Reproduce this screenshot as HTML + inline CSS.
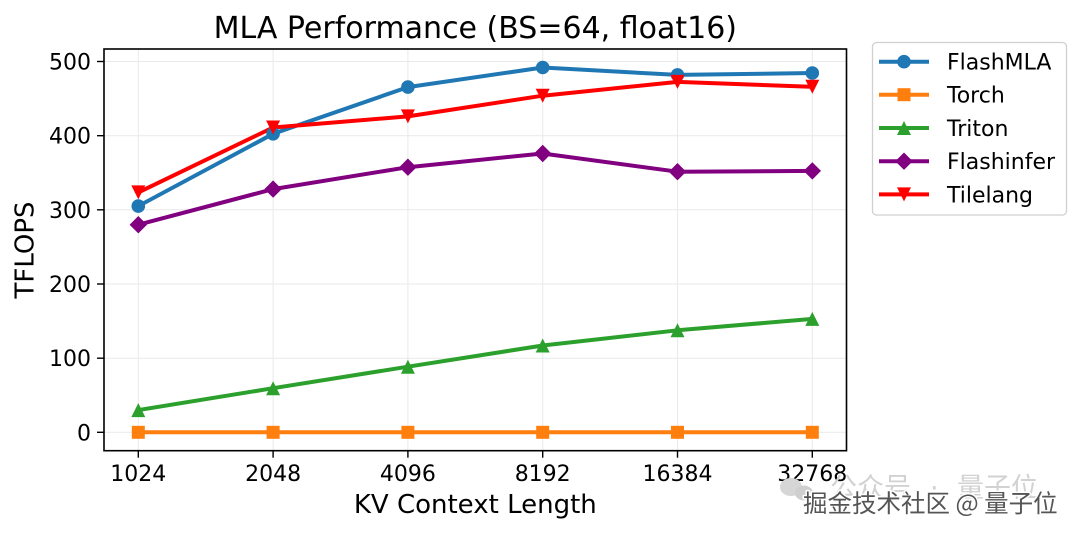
<!DOCTYPE html>
<html><head><meta charset="utf-8"><style>
html,body{margin:0;padding:0;background:#fff;}
svg{display:block;}
text{font-family:"DejaVu Sans","Liberation Sans",sans-serif;}
.cjk{font-family:"Noto Sans CJK SC","WenQuanYi Zen Hei",sans-serif;}
</style></head><body>
<svg width="1080" height="533" viewBox="0 0 1080 533" xmlns="http://www.w3.org/2000/svg">
<rect width="1080" height="533" fill="#fff"/>
<!-- grid -->
<g stroke="#e9e9e9" stroke-width="1">
<line x1="104" x2="846.5" y1="432.3" y2="432.3"/>
<line x1="104" x2="846.5" y1="358.2" y2="358.2"/>
<line x1="104" x2="846.5" y1="284.0" y2="284.0"/>
<line x1="104" x2="846.5" y1="209.8" y2="209.8"/>
<line x1="104" x2="846.5" y1="135.7" y2="135.7"/>
<line x1="104" x2="846.5" y1="61.5" y2="61.5"/>
<line y1="49" y2="450.7" x1="138.3" x2="138.3"/>
<line y1="49" y2="450.7" x1="273.1" x2="273.1"/>
<line y1="49" y2="450.7" x1="407.9" x2="407.9"/>
<line y1="49" y2="450.7" x1="542.7" x2="542.7"/>
<line y1="49" y2="450.7" x1="677.5" x2="677.5"/>
<line y1="49" y2="450.7" x1="812.3" x2="812.3"/>
</g>
<!-- series -->
<g fill="none" stroke-width="4" stroke-linejoin="round" stroke-linecap="square">
<polyline stroke="#ff7f0e" points="138.3,432.3 273.1,432.3 407.9,432.3 542.7,432.3 677.5,432.3 812.3,432.3"/>
<polyline stroke="#2ca02c" points="138.3,410.1 273.1,388.2 407.9,366.7 542.7,345.5 677.5,330.3 812.3,318.9"/>
<polyline stroke="#800080" points="138.3,224.7 273.1,189.1 407.9,167.2 542.7,153.5 677.5,171.7 812.3,170.9"/>
<polyline stroke="#1f77b4" points="138.3,206.1 273.1,133.8 407.9,87.1 542.7,67.5 677.5,74.9 812.3,73.0"/>
<polyline stroke="#ff0000" points="138.3,192.4 273.1,127.5 407.9,116.4 542.7,95.7 677.5,81.9 812.3,86.8"/>
</g>
<!-- markers -->
<g fill="#ff7f0e">
<rect x="131.8" y="425.8" width="13" height="13"/>
<rect x="266.6" y="425.8" width="13" height="13"/>
<rect x="401.4" y="425.8" width="13" height="13"/>
<rect x="536.2" y="425.8" width="13" height="13"/>
<rect x="671" y="425.8" width="13" height="13"/>
<rect x="805.8" y="425.8" width="13" height="13"/>
</g>
<g fill="#2ca02c">
<polygon points="138.3,403.1 131.3,417.1 145.3,417.1"/>
<polygon points="273.1,381.2 266.1,395.2 280.1,395.2"/>
<polygon points="407.9,359.7 400.9,373.7 414.9,373.7"/>
<polygon points="542.7,338.5 535.7,352.5 549.7,352.5"/>
<polygon points="677.5,323.3 670.5,337.3 684.5,337.3"/>
<polygon points="812.3,311.9 805.3,325.9 819.3,325.9"/>
</g>
<g fill="#800080">
<polygon points="138.3,216 147,224.7 138.3,233.4 129.6,224.7"/>
<polygon points="273.1,180.4 281.8,189.1 273.1,197.8 264.4,189.1"/>
<polygon points="407.9,158.5 416.6,167.2 407.9,175.9 399.2,167.2"/>
<polygon points="542.7,144.8 551.4,153.5 542.7,162.2 534,153.5"/>
<polygon points="677.5,163 686.2,171.7 677.5,180.4 668.8,171.7"/>
<polygon points="812.3,162.2 821,170.9 812.3,179.6 803.6,170.9"/>
</g>
<g fill="#1f77b4">
<circle cx="138.3" cy="206.1" r="6.8"/>
<circle cx="273.1" cy="133.8" r="6.8"/>
<circle cx="407.9" cy="87.1" r="6.8"/>
<circle cx="542.7" cy="67.5" r="6.8"/>
<circle cx="677.5" cy="74.9" r="6.8"/>
<circle cx="812.3" cy="73.0" r="6.8"/>
</g>
<g fill="#ff0000">
<polygon points="138.3,199.4 131.3,185.4 145.3,185.4"/>
<polygon points="273.1,134.5 266.1,120.5 280.1,120.5"/>
<polygon points="407.9,123.4 400.9,109.4 414.9,109.4"/>
<polygon points="542.7,102.7 535.7,88.7 549.7,88.7"/>
<polygon points="677.5,88.9 670.5,74.9 684.5,74.9"/>
<polygon points="812.3,93.8 805.3,79.8 819.3,79.8"/>
</g>
<!-- axes frame -->
<rect x="104" y="49" width="742.5" height="401.7" fill="none" stroke="#000" stroke-width="1.6"/>
<!-- ticks -->
<g stroke="#000" stroke-width="1.4">
<line x1="97" x2="104" y1="432.3" y2="432.3"/>
<line x1="97" x2="104" y1="358.2" y2="358.2"/>
<line x1="97" x2="104" y1="284.0" y2="284.0"/>
<line x1="97" x2="104" y1="209.8" y2="209.8"/>
<line x1="97" x2="104" y1="135.7" y2="135.7"/>
<line x1="97" x2="104" y1="61.5" y2="61.5"/>
<line y1="450.7" y2="457.7" x1="138.3" x2="138.3"/>
<line y1="450.7" y2="457.7" x1="273.1" x2="273.1"/>
<line y1="450.7" y2="457.7" x1="407.9" x2="407.9"/>
<line y1="450.7" y2="457.7" x1="542.7" x2="542.7"/>
<line y1="450.7" y2="457.7" x1="677.5" x2="677.5"/>
<line y1="450.7" y2="457.7" x1="812.3" x2="812.3"/>
</g>
<g font-size="22" fill="#000" text-anchor="end">
<text x="91" y="440.3">0</text>
<text x="91" y="366.2">100</text>
<text x="91" y="292">200</text>
<text x="91" y="217.8">300</text>
<text x="91" y="143.7">400</text>
<text x="91" y="69.5">500</text>
</g>
<g font-size="22" fill="#000" text-anchor="middle">
<text x="138.3" y="481">1024</text>
<text x="273.1" y="481">2048</text>
<text x="407.9" y="481">4096</text>
<text x="542.7" y="481">8192</text>
<text x="677.5" y="481">16384</text>
<text x="812.3" y="481">32768</text>
</g>
<text x="475.3" y="513" font-size="26" text-anchor="middle">KV Context Length</text>
<text transform="translate(33.5,250) rotate(-90)" font-size="26" text-anchor="middle">TFLOPS</text>
<text x="475.3" y="38" font-size="30" text-anchor="middle">MLA Performance (BS=64, float16)</text>
<!-- legend -->
<rect x="872.5" y="42.5" width="194" height="172.5" rx="4" ry="4" fill="#fff" stroke="#d0d0d0" stroke-width="1.3"/>
<g stroke-width="4" fill="none">
<line x1="879" x2="929" y1="61.7" y2="61.7" stroke="#1f77b4"/>
<line x1="879" x2="929" y1="94.7" y2="94.7" stroke="#ff7f0e"/>
<line x1="879" x2="929" y1="128" y2="128" stroke="#2ca02c"/>
<line x1="879" x2="929" y1="161.2" y2="161.2" stroke="#800080"/>
<line x1="879" x2="929" y1="194.4" y2="194.4" stroke="#ff0000"/>
</g>
<circle cx="904" cy="61.7" r="6.8" fill="#1f77b4"/>
<rect x="897.5" y="88.2" width="13" height="13" fill="#ff7f0e"/>
<polygon points="904,121 897,135 911,135" fill="#2ca02c"/>
<polygon points="904,152.5 912.7,161.2 904,169.9 895.3,161.2" fill="#800080"/>
<polygon points="904,201.4 897,187.4 911,187.4" fill="#ff0000"/>
<g font-size="22" fill="#000">
<text x="947" y="69.7">FlashMLA</text>
<text x="947" y="102.7">Torch</text>
<text x="947" y="136">Triton</text>
<text x="947" y="169.2">Flashinfer</text>
<text x="947" y="202.4">Tilelang</text>
</g>
<!-- watermark -->
<ellipse cx="791" cy="487" rx="11" ry="9" fill="#d6d6d6"/>
<ellipse cx="804" cy="493" rx="9" ry="7.5" fill="#cfcfcf"/>
<g class="cjk" font-size="27" fill="#d2d2d2">
<text x="830" y="497">公众号</text>
<text x="930" y="497">·</text>
<text x="957" y="497">量子位</text>
</g>
<text class="cjk" x="803" y="512" font-size="24.5" fill="#555" stroke="#fff" stroke-width="3" paint-order="stroke" stroke-linejoin="round">掘金技术社区 @ 量子位</text>
</svg>
</body></html>
